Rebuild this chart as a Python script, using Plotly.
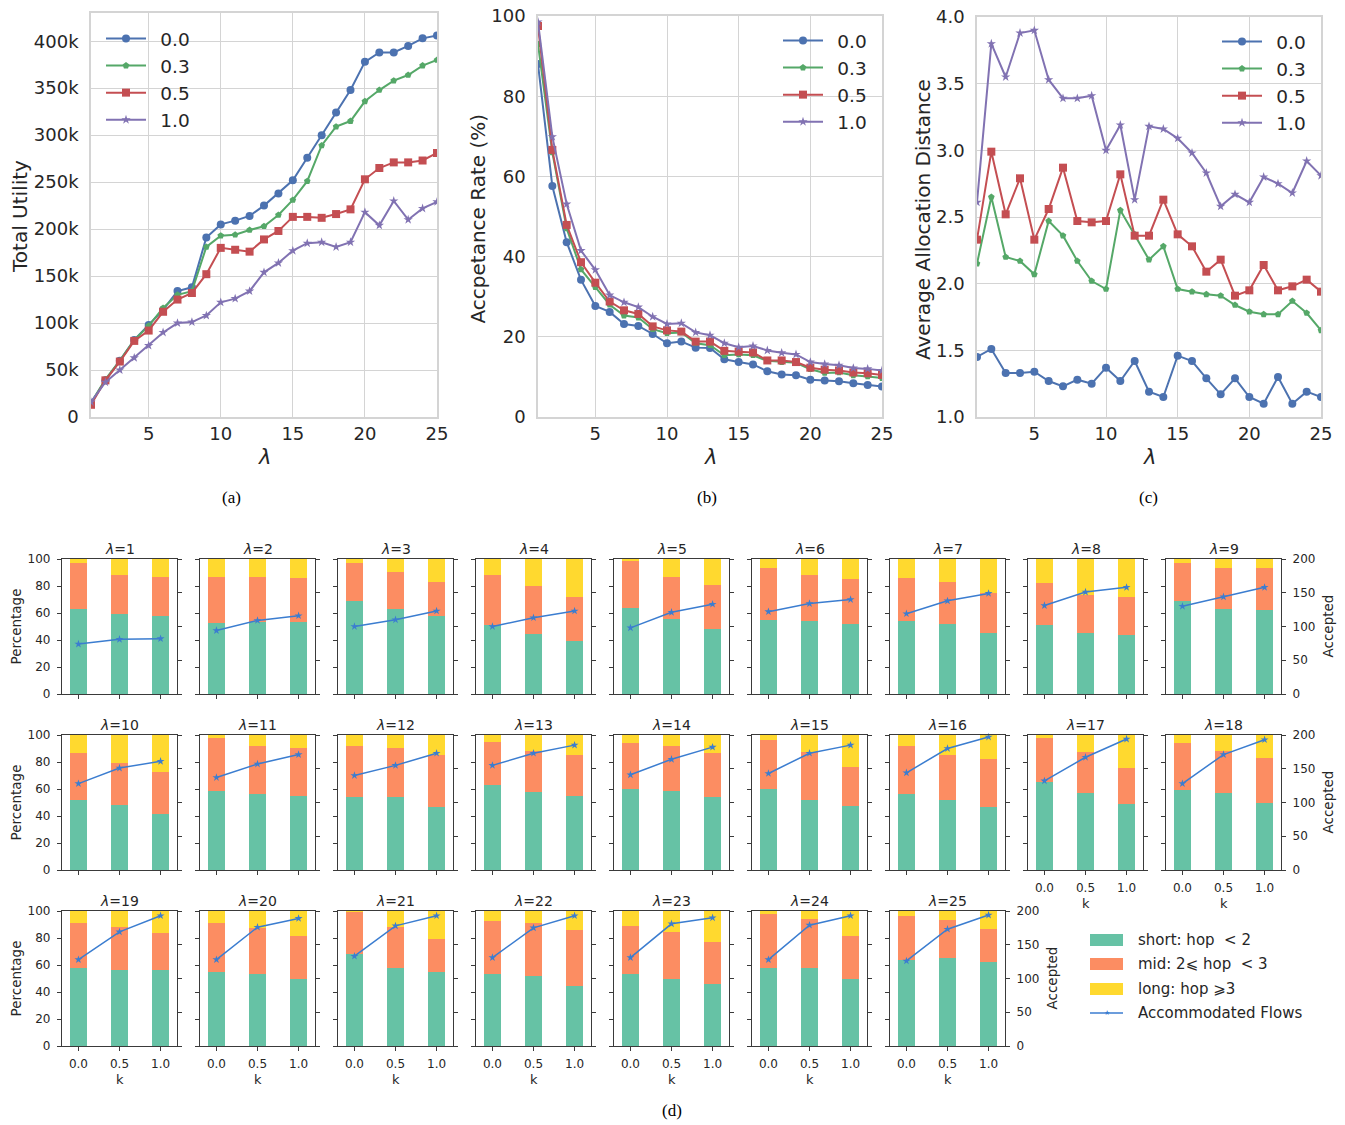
import plotly.graph_objects as go

W, H = 1345, 1125


def fx(x):
    return x / W


def fy(y):
    return 1 - y / H


# ---------------- data ----------------
lam = list(range(1, 26))
series_labels = ["0.0", "0.3", "0.5", "1.0"]

# (a) total utility, in thousands
util_00 = [15, 39, 60, 82, 98, 114, 134, 138, 191, 205, 209, 214, 225, 238, 252, 276, 300, 324, 348, 378, 388, 388, 395, 403, 406]
util_03 = [15, 40, 60, 82, 97, 116, 130, 134, 181, 193, 194, 199, 203, 215, 231, 251, 289, 309, 315, 336, 348, 358, 364, 374, 380]
util_05 = [13, 39, 59, 81, 92, 112, 125, 132, 152, 180, 178, 176, 189, 198, 213, 213, 212, 216, 221, 253, 265, 271, 271, 273, 281]
util_10 = [16, 37, 50, 63, 76, 90, 100, 101, 108, 122, 126, 134, 154, 164, 177, 185, 186, 181, 186, 218, 204, 230, 210, 222, 229]

# (b) acceptance rate (%)
acc_00 = [88, 57.6, 43.6, 34.2, 27.7, 26.2, 23.2, 22.7, 20.7, 18.4, 18.8, 17.3, 17.2, 14.4, 13.7, 13.1, 11.4, 10.6, 10.4, 9.3, 9.1, 8.9, 8.4, 8.0, 7.6]
acc_03 = [93, 66, 47, 36.8, 32.4, 28.0, 25.3, 24.8, 21.9, 20.9, 21.1, 18.4, 17.9, 15.4, 15.6, 15.4, 14.0, 13.7, 13.5, 11.9, 11.0, 11.1, 10.4, 10.1, 9.7]
acc_05 = [97.5, 66.6, 47.9, 38.6, 33.5, 28.8, 26.6, 25.7, 22.6, 21.6, 21.3, 18.8, 18.8, 16.5, 16.3, 16.1, 14.1, 14.1, 13.7, 12.3, 11.8, 11.6, 11.1, 10.9, 10.5]
acc_10 = [98.5, 69.9, 53.1, 41.5, 36.7, 30.4, 28.6, 27.4, 25.0, 23.2, 23.4, 21.1, 20.4, 18.4, 17.4, 17.7, 16.6, 16.0, 15.6, 13.7, 13.2, 12.9, 12.2, 12.0, 11.6]

# (c) average allocation distance
dist_00 = [1.45, 1.51, 1.33, 1.33, 1.34, 1.27, 1.23, 1.28, 1.25, 1.37, 1.27, 1.42, 1.19, 1.15, 1.46, 1.42, 1.29, 1.17, 1.29, 1.15, 1.10, 1.30, 1.10, 1.19, 1.15]
dist_03 = [2.15, 2.65, 2.20, 2.17, 2.07, 2.47, 2.36, 2.17, 2.02, 1.96, 2.55, 2.37, 2.18, 2.28, 1.96, 1.94, 1.92, 1.91, 1.84, 1.79, 1.77, 1.77, 1.87, 1.78, 1.65]
dist_05 = [2.33, 2.99, 2.52, 2.79, 2.33, 2.56, 2.87, 2.47, 2.46, 2.47, 2.82, 2.36, 2.36, 2.63, 2.37, 2.28, 2.09, 2.18, 1.91, 1.95, 2.14, 1.95, 1.98, 2.03, 1.94]
dist_10 = [2.61, 3.80, 3.55, 3.88, 3.90, 3.53, 3.39, 3.39, 3.41, 3.00, 3.19, 2.63, 3.18, 3.16, 3.09, 2.98, 2.83, 2.58, 2.67, 2.61, 2.80, 2.75, 2.68, 2.92, 2.81]

# (d) per-lambda breakdown over k
k_vals = [0.0, 0.5, 1.0]
k_text = ["0.0", "0.5", "1.0"]
short_pct = [
    [63, 59, 58], [52.5, 53, 53], [69, 63, 58], [51, 44.5, 39.5], [64, 55.5, 48.5],
    [55, 54, 52], [54, 52, 45], [51, 45.5, 43.5], [69, 63, 62.5], [52, 48, 41.5],
    [58.5, 56.5, 55], [54, 54, 46.5], [63, 58, 55], [60, 58.5, 54], [60, 52, 47.5],
    [56.5, 52, 46.5], [65.5, 57, 49], [59.5, 57, 49.5], [57.5, 56, 56], [55, 53, 50],
    [68.5, 58, 54.5], [53.5, 52, 44.5], [53.5, 49.5, 46], [58, 57.5, 49.5], [64, 65, 62],
]
mid_pct = [
    [34, 29.5, 29], [34.5, 34, 33], [28, 27.5, 25], [37.5, 35.5, 32.5], [35, 31.5, 32.5],
    [38, 34.5, 33.5], [32, 31, 29.5], [31.5, 28, 28], [28, 30, 30.5], [35, 31.5, 31],
    [39.5, 35.5, 35.5], [38, 36.5, 38.5], [31.5, 30.5, 30.5], [34, 33, 33], [36.5, 35.5, 29],
    [35, 33, 36], [32.5, 30.5, 26.5], [34.5, 31.5, 33.5], [33.5, 32, 27.5], [36, 34.5, 31.5],
    [31, 30.5, 24.5], [39, 39, 41.5], [35.5, 35, 31], [40, 36.5, 32], [32, 28, 25],
]
long_pct = [
    [3, 11.5, 13], [13, 13, 14], [3, 9.5, 17], [11.5, 20, 28], [1, 13, 19],
    [7, 11.5, 14.5], [14, 17, 25.5], [17.5, 26.5, 28.5], [3, 7, 7], [13, 20.5, 27.5],
    [2, 8, 9.5], [8, 9.5, 15], [5.5, 11.5, 14.5], [6, 8.5, 13], [3.5, 12.5, 23.5],
    [8.5, 15, 17.5], [2, 12.5, 24.5], [6, 11.5, 17], [9, 12, 16.5], [9, 12.5, 18.5],
    [0.5, 11.5, 21], [7.5, 9, 14], [11, 15.5, 23], [2, 6, 18.5], [4, 7, 13],
]
accepted = [
    [74, 81, 82], [94, 109, 116], [100, 110, 123], [100, 113, 123], [98, 121, 133],
    [122, 134, 140], [119, 138, 149], [131, 151, 158], [130, 144, 158], [128, 151, 161],
    [137, 157, 171], [140, 155, 173], [155, 173, 185], [141, 164, 182], [143, 173, 185],
    [144, 180, 197], [132, 167, 194], [128, 171, 193], [128, 169, 193], [128, 176, 189],
    [133, 178, 193], [131, 175, 193], [131, 181, 190], [128, 179, 193], [126, 173, 194],
]
legend_d = ["short: hop  < 2", "mid: 2⩽ hop  < 3", "long: hop ⩾3", "Accommodated Flows"]

# ---------------- styles ----------------
FONT = "DejaVu Sans"
TXT = "#262626"
GRID = "#d4d4d4"
SPINE = "#3a3a3a"
line_colors = ["#4C72B0", "#55A868", "#C44E52", "#8172B2"]
symbols = ["circle", "pentagon", "square", "star"]
msizes = [8, 7, 8, 7]
c_short, c_mid, c_long = "#66c2a5", "#fc8d62", "#ffd92f"
c_line = "#3b7dd0"

fig = go.Figure()
layout = dict(
    width=W, height=H, margin=dict(l=0, r=0, t=0, b=0),
    paper_bgcolor="white", plot_bgcolor="white", barmode="stack",
    font=dict(family=FONT, color=TXT), showlegend=True,
)
annotations = []
shapes = []

# ---------------- top charts ----------------
top_specs = [
    dict(dom=(91, 437, 13, 417), data=[util_00, util_03, util_05, util_10], scale=1000,
         yr=[0, 430000], yt=[i * 50000 for i in range(9)],
         ytt=["0"] + [f"{i * 50}k" for i in range(1, 9)],
         ytitle="Total Utility", ytx=20, leg=(101, 20)),
    dict(dom=(538, 882, 16, 417), data=[acc_00, acc_03, acc_05, acc_10], scale=1,
         yr=[0, 100], yt=[0, 20, 40, 60, 80, 100], ytt=["0", "20", "40", "60", "80", "100"],
         ytitle="Accpetance Rate (%)", ytx=478, leg=(778, 22)),
    dict(dom=(977, 1321, 17, 417), data=[dist_00, dist_03, dist_05, dist_10], scale=1,
         yr=[1, 4], yt=[1, 1.5, 2, 2.5, 3, 3.5, 4], ytt=["1.0", "1.5", "2.0", "2.5", "3.0", "3.5", "4.0"],
         ytitle="Average Allocation Distance", ytx=923, leg=(1217, 23)),
]
captions = [("(a)", 232), ("(b)", 707), ("(c)", 1148)]

for n, spec in enumerate(top_specs, start=1):
    x0, x1, y0, y1 = spec["dom"]
    xk = "xaxis" if n == 1 else f"xaxis{n}"
    yk = "yaxis" if n == 1 else f"yaxis{n}"
    xr = "x" if n == 1 else f"x{n}"
    yr = "y" if n == 1 else f"y{n}"
    legname = "legend" if n == 1 else f"legend{n}"
    layout[xk] = dict(
        domain=[fx(x0), fx(x1)], anchor=yr, range=[1, 25], tickvals=[5, 10, 15, 20, 25],
        showgrid=True, gridcolor=GRID, gridwidth=1.3, showline=True, linecolor=GRID,
        linewidth=1.6, mirror=True, zeroline=False, ticks="", automargin=False,
        tickfont=dict(family=FONT, size=18, color=TXT), ticklabelstandoff=0,
    )
    layout[yk] = dict(
        domain=[fy(y1), fy(y0)], anchor=xr, range=spec["yr"], tickvals=spec["yt"],
        ticktext=spec["ytt"], showgrid=True, gridcolor=GRID, gridwidth=1.3, showline=True,
        linecolor=GRID, linewidth=1.6, mirror=True, zeroline=False, ticks="", automargin=False,
        tickfont=dict(family=FONT, size=18, color=TXT), ticklabelstandoff=7,
    )
    for s in range(4):
        fig.add_trace(go.Scatter(
            x=lam, y=[v * spec["scale"] for v in spec["data"][s]],
            name="\u2002" + series_labels[s],
            mode="lines+markers", xaxis=xr, yaxis=yr, legend=legname,
            line=dict(color=line_colors[s], width=2),
            marker=dict(symbol=symbols[s], size=msizes[s], color=line_colors[s], line=dict(width=0)),
            cliponaxis=True,
        ))
    lx, ly = spec["leg"]
    layout[legname] = dict(
        x=fx(lx), y=fy(ly), xanchor="left", yanchor="top", bgcolor="rgba(0,0,0,0)",
        borderwidth=0, font=dict(family=FONT, size=18.5, color=TXT), itemwidth=40,
        tracegroupgap=0, traceorder="normal",
    )
    annotations.append(dict(
        text=spec["ytitle"], x=fx(spec["ytx"]), y=fy((y0 + y1) / 2 + 2), xref="paper", yref="paper",
        textangle=-90, showarrow=False, font=dict(family=FONT, size=20, color=TXT),
        xanchor="center", yanchor="middle",
    ))
    annotations.append(dict(
        text="<i>λ</i>", x=fx((x0 + x1) / 2), y=fy(457), xref="paper", yref="paper",
        showarrow=False, font=dict(family=FONT, size=21, color=TXT), xanchor="center", yanchor="middle",
    ))
for txt, cx in captions:
    annotations.append(dict(
        text=txt, x=fx(cx), y=fy(497), xref="paper", yref="paper", showarrow=False,
        font=dict(family="Liberation Serif", size=17, color="#000"), xanchor="center", yanchor="middle",
    ))
annotations.append(dict(
    text="(d)", x=fx(672), y=fy(1110), xref="paper", yref="paper", showarrow=False,
    font=dict(family="Liberation Serif", size=17, color="#000"), xanchor="center", yanchor="middle",
))

# ---------------- small multiples ----------------
PW, PH = 115, 135
row_tops = [559, 735, 911]
small_font = dict(family=FONT, size=12, color=TXT)
for idx, L in enumerate(lam):
    r, c = divmod(idx, 9)
    xn, yn, y2n = 4 + idx, 4 + idx, 29 + idx
    x0 = 62 + 138 * c
    x1 = x0 + PW
    y0 = row_tops[r]
    y1 = y0 + PH
    bottom_labels = (r == 2) or L in (17, 18)
    right_labels = (c == 8) or L == 25
    layout[f"xaxis{xn}"] = dict(
        domain=[fx(x0), fx(x1)], anchor=f"y{yn}", range=[-0.2, 1.2], tickvals=k_vals,
        ticktext=k_text, showticklabels=bottom_labels, ticks="outside", ticklen=4,
        tickwidth=1, tickcolor=SPINE, showline=True, mirror=True, linecolor=SPINE,
        linewidth=1.2, showgrid=False, zeroline=False, automargin=False, tickfont=small_font,
        ticklabelstandoff=2,
    )
    layout[f"yaxis{yn}"] = dict(
        domain=[fy(y1), fy(y0)], anchor=f"x{xn}", range=[0, 100],
        tickvals=[0, 20, 40, 60, 80, 100], showticklabels=(c == 0), ticks="outside",
        ticklen=4, tickwidth=1, tickcolor=SPINE, showline=True, linecolor=SPINE,
        linewidth=1.2, showgrid=False, zeroline=False, automargin=False, tickfont=small_font,
        ticklabelstandoff=4,
    )
    layout[f"yaxis{y2n}"] = dict(
        overlaying=f"y{yn}", anchor=f"x{xn}", side="right", range=[0, 200],
        tickvals=[0, 50, 100, 150, 200], showticklabels=right_labels, ticks="outside",
        ticklen=4, tickwidth=1, tickcolor=SPINE, showline=True, linecolor=SPINE,
        linewidth=1.2, showgrid=False, zeroline=False, automargin=False, tickfont=small_font,
        ticklabelstandoff=4,
    )
    for vals, col, nm in [(short_pct, c_short, legend_d[0]), (mid_pct, c_mid, legend_d[1]),
                          (long_pct, c_long, legend_d[2])]:
        fig.add_trace(go.Bar(
            x=k_vals, y=vals[idx], width=0.21, name=nm, showlegend=False,
            marker=dict(color=col, line=dict(width=0)), xaxis=f"x{xn}", yaxis=f"y{yn}",
        ))
    fig.add_trace(go.Scatter(
        x=k_vals, y=accepted[idx], name=legend_d[3], showlegend=False, mode="lines+markers",
        line=dict(color=c_line, width=1.5), marker=dict(symbol="star", size=6, color=c_line),
        xaxis=f"x{xn}", yaxis=f"y{y2n}", cliponaxis=False,
    ))
    annotations.append(dict(
        text=f"<i>λ</i>={L}", x=fx((x0 + x1) / 2), y=fy(y0 - 10), xref="paper", yref="paper",
        showarrow=False, font=dict(family=FONT, size=14, color=TXT), xanchor="center", yanchor="middle",
    ))
    if bottom_labels:
        annotations.append(dict(
            text="k", x=fx((x0 + x1) / 2), y=fy(y1 + 33), xref="paper", yref="paper",
            showarrow=False, font=dict(family=FONT, size=13, color=TXT), xanchor="center", yanchor="middle",
        ))
    if c == 0:
        annotations.append(dict(
            text="Percentage", x=fx(15), y=fy((y0 + y1) / 2), xref="paper", yref="paper",
            textangle=-90, showarrow=False, font=dict(family=FONT, size=13.5, color=TXT),
            xanchor="center", yanchor="middle",
        ))
    if right_labels:
        annotations.append(dict(
            text="Accepted", x=fx(x1 + 46), y=fy((y0 + y1) / 2), xref="paper", yref="paper",
            textangle=-90, showarrow=False, font=dict(family=FONT, size=13.5, color=TXT),
            xanchor="center", yanchor="middle",
        ))

# ---------------- legend for (d) ----------------
leg_rows = [940, 964, 989, 1013]
for i, (col, txt) in enumerate(zip([c_short, c_mid, c_long], legend_d[:3])):
    yc = leg_rows[i]
    shapes.append(dict(type="rect", xref="paper", yref="paper", x0=fx(1090), x1=fx(1123),
                       y0=fy(yc + 6), y1=fy(yc - 6), fillcolor=col, line=dict(width=0)))
shapes.append(dict(type="line", xref="paper", yref="paper", x0=fx(1090), x1=fx(1123),
                   y0=fy(leg_rows[3]), y1=fy(leg_rows[3]), line=dict(color=c_line, width=1.5)))
annotations.append(dict(text="★", x=fx(1106.5), y=fy(leg_rows[3]), xref="paper", yref="paper",
                        showarrow=False, font=dict(size=7, color=c_line), xanchor="center", yanchor="middle"))
for i, txt in enumerate(legend_d):
    annotations.append(dict(
        text=txt, x=fx(1136), y=fy(leg_rows[i]), xref="paper", yref="paper", showarrow=False,
        font=dict(family=FONT, size=15, color=TXT), xanchor="left", yanchor="middle",
    ))

layout["annotations"] = annotations
layout["shapes"] = shapes
fig.update_layout(**layout)
fig.write_html("out.html")
